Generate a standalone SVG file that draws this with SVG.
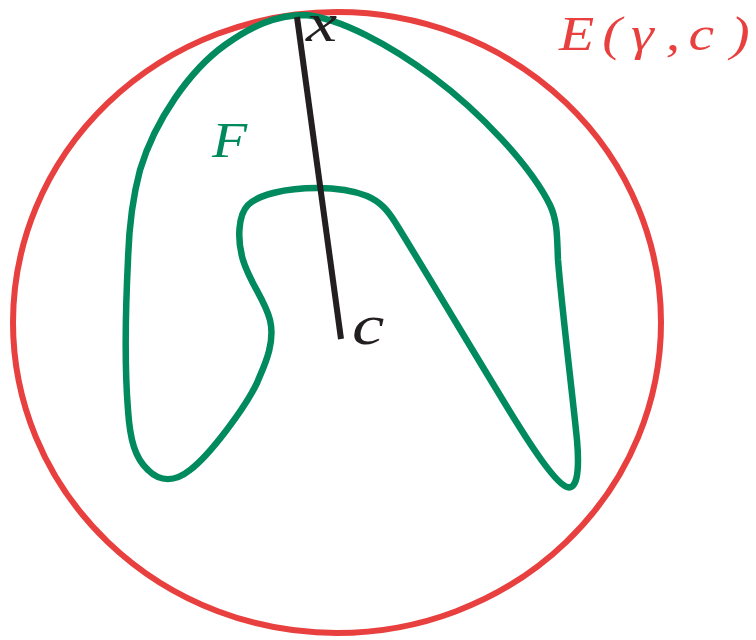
<svg xmlns="http://www.w3.org/2000/svg" width="756" height="640" viewBox="0 0 756 640">
<style>
.lbl{font-family:"Liberation Serif","DejaVu Serif",serif;font-style:italic;}
</style>
<rect width="756" height="640" fill="#fff"/>
<g id="region-E">
<ellipse cx="337" cy="322.5" rx="324" ry="310.5" fill="none" stroke="#e8403f" stroke-width="6"/>
<text class="lbl" transform="translate(559,50) scale(1.2,1)" x="0 36 60 89 108 143" y="0" font-size="48" fill="#e8403f">E(γ,c)</text>
</g>
<g id="shape-F">
<path d="M305,15 C340,18 390,45 433,77 C480,112 530,165 550,205 C558,222 557,240 558,260 C562,310 572,390 577,440 C580,475 576,490 567,487 C558,484 540,460 517,423 C495,388 420,262 395,222 C388,211 381,202 367,196 C352,190 337,188 317,188 C285,188 258,195 248,205 C238,215 237,240 243,260 C250,283 265,300 270,320 C276,345 262,370 257,383 C245,408 210,455 190,470 C175,482 160,482 148,470 C135,458 130,440 128,410 C124,360 126,300 128,260 C129,225 132,200 140,170 C155,120 190,70 225,45 C250,27 275,15 305,15 Z" fill="none" stroke="#008a5e" stroke-width="6.5" stroke-linejoin="round"/>
<text class="lbl" transform="translate(212,157) scale(1.15,1)" font-size="50" fill="#008a5e">F</text>
</g>
<g id="connectors">
<line x1="297" y1="17" x2="341" y2="339" stroke="#231f20" stroke-width="6"/>
</g>
<g id="point-x"><text class="lbl" transform="translate(306,41) scale(1.3,1)" font-size="54" fill="#231f20">x</text></g>
<g id="point-c"><text class="lbl" transform="translate(352,344) scale(1.3,1)" font-size="56" fill="#231f20">c</text></g>
</svg>
